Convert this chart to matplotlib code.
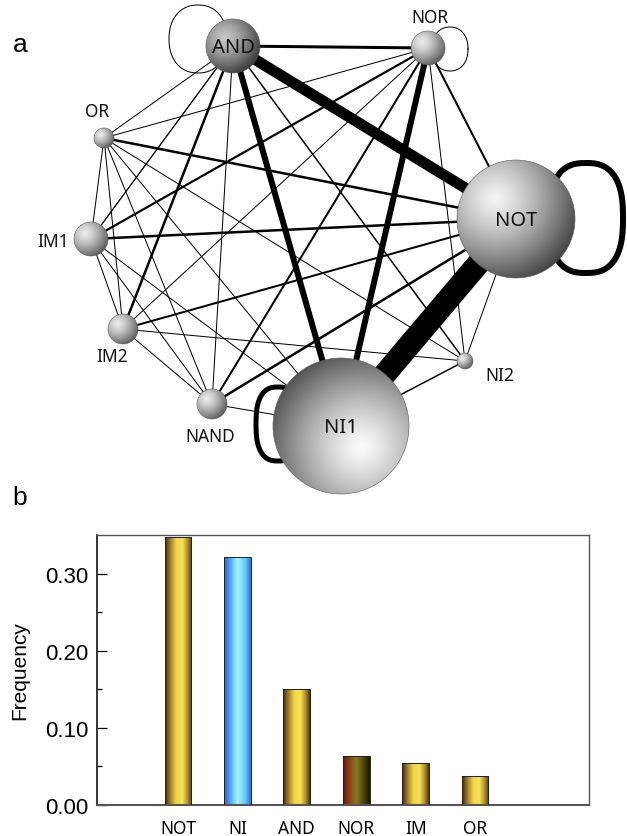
import matplotlib
matplotlib.use('Agg')
import matplotlib.pyplot as plt
import numpy as np
from matplotlib.patches import Circle
from matplotlib.colors import LinearSegmentedColormap

# -- network data (node layout in pixels of panel a) -----
node_names = ['AND', 'NOR', 'NOT', 'NI2', 'NI1', 'NAND', 'IM2', 'IM1', 'OR']
node_x = [233, 428, 516, 465, 341, 212, 123, 91, 104]
node_y = [47, 49, 220, 362, 427, 405, 330, 240, 139]
node_r = [27, 17, 59, 8, 68, 15, 15, 17, 10]

edge_src = ['AND', 'NOT', 'AND', 'NOR', 'AND', 'OR', 'IM1', 'IM1', 'IM2', 'IM2',
            'NAND', 'NAND', 'NOR', 'NI1', 'AND', 'AND', 'AND', 'AND', 'OR', 'OR',
            'OR', 'OR', 'OR', 'OR', 'IM1', 'IM1', 'IM1', 'IM1', 'IM2', 'IM2',
            'IM2', 'NAND', 'NOT', 'NOR']
edge_dst = ['NOT', 'NI1', 'NI1', 'NI1', 'NOR', 'NOT', 'NOT', 'NOR', 'AND', 'NOT',
            'NOT', 'NOR', 'NOT', 'NI2', 'NI2', 'OR', 'IM1', 'NAND', 'NOR', 'IM1',
            'IM2', 'NAND', 'NI1', 'NI2', 'IM2', 'NAND', 'NI1', 'AND', 'NAND', 'NI2',
            'NOR', 'NI1', 'NI2', 'NI2']
edge_w = [11, 23, 6, 6, 3, 2.5, 2.5, 2.2, 2.5, 2,
          2.5, 2, 2, 1.5, 1.5, 1, 1, 1, 1, 1,
          1, 1, 1, 1, 1, 1, 1, 1, 1, 1,
          1, 1, 1, 1]

loop_node = ['NOT', 'NI1', 'AND', 'NOR']
loop_w = [6, 5, 1, 1]

# -- bar data -----
gates = ['NOT', 'NI', 'AND', 'NOR', 'IM', 'OR']
freq = [0.348, 0.321, 0.150, 0.064, 0.055, 0.037]

W, H = 627, 837
fig = plt.figure(figsize=(W / 100, H / 100), dpi=100)
PX = 0.72  # points per pixel

pos = {n: (x, y) for n, x, y in zip(node_names, node_x, node_y)}
rad = {n: r for n, r in zip(node_names, node_r)}

# ---------------- panel a ----------------
ax = fig.add_axes([0, 1 - 500 / H, 1, 500 / H])
ax.set_xlim(0, W)
ax.set_ylim(500, 0)
ax.set_autoscale_on(False)
ax.axis('off')

for s, d, w in zip(edge_src, edge_dst, edge_w):
    (x0, y0), (x1, y1) = pos[s], pos[d]
    ax.plot([x0, x1], [y0, y1], color='black', lw=w * PX,
            solid_capstyle='butt', zorder=1)

# self loops: offset of loop centre, half sizes, exponent
loop_geom = {'NOT': (70, -1, 37, 55, 2.6),
             'NI1': (-63, -2, 22, 37, 2.6),
             'AND': (-35, -7, 29, 34, 2.2),
             'NOR': (22, 1, 18, 22, 2.2)}
t = np.linspace(0, 2 * np.pi, 400)
for n, w in zip(loop_node, loop_w):
    dx, dy, a, b, p = loop_geom[n]
    cx, cy = pos[n][0] + dx, pos[n][1] + dy
    c, s_ = np.cos(t), np.sin(t)
    xs = cx + a * np.sign(c) * np.abs(c) ** (2 / p)
    ys = cy + b * np.sign(s_) * np.abs(s_) ** (2 / p)
    ax.plot(xs, ys, color='black', lw=w * PX, zorder=1)

# shaded spheres
shade = {'NOT': (-0.35, -0.35, 0.95, 0.26),
         'NI1': (0.3, 0.3, 0.98, 0.33),
         'AND': (-0.3, -0.3, 0.78, 0.22)}


def sphere(cx, cy, r, hx, hy, light, dark):
    g = np.linspace(-1, 1, 200)
    X, Y = np.meshgrid(g, g)
    dd = np.hypot(X - hx, Y - hy) / (1 + np.hypot(hx, hy))
    val = light - (light - dark) * np.clip(dd, 0, 1) ** 1.3
    im = ax.imshow(val, extent=(cx - r, cx + r, cy + r, cy - r), cmap='gray',
                   vmin=0, vmax=1, interpolation='bilinear', zorder=3,
                   aspect='auto')
    circ = Circle((cx, cy), r, facecolor='none', edgecolor='0.35', lw=0.4,
                  zorder=4)
    ax.add_patch(circ)
    im.set_clip_path(circ)


for n in node_names:
    hx, hy, li, da = shade.get(n, (-0.35, -0.35, 0.92, 0.35))
    sphere(pos[n][0], pos[n][1], rad[n], hx, hy, li, da)

font = 'Noto Sans'
inner = {'AND': (0, 0), 'NOT': (0, 0), 'NI1': (0, 0)}
outer = {'NOR': (2, -31), 'OR': (-7, -27), 'IM1': (-38, 2), 'IM2': (-11, 27),
         'NAND': (-2, 32), 'NI2': (35, 14)}
for n in node_names:
    x, y = pos[n]
    if n in inner:
        ax.text(x, y + 1, n, ha='center', va='center', fontsize=14.5,
                family=font, color='#111111', zorder=5)
    else:
        ox, oy = outer[n]
        ax.text(x + ox, y + oy, n, ha='center', va='center', fontsize=12.5,
                family=font, color='#111111', zorder=5)

fig.text(20 / W, 1 - 45 / H, 'a', fontsize=19, family='Liberation Sans',
         ha='center', va='center')
fig.text(20 / W, 1 - 498 / H, 'b', fontsize=19, family='Liberation Sans',
         ha='center', va='center')

# ---------------- panel b ----------------
bx = fig.add_axes([97 / W, (H - 806) / H, (589 - 97) / W, (806 - 536) / H])
gold = LinearSegmentedColormap.from_list('gold', [
    (0, '#3e2810'), (0.18, '#9a7426'), (0.42, '#f0d646'), (0.65, '#f6e254'),
    (0.85, '#b08a30'), (1, '#4a3212')])
blue = LinearSegmentedColormap.from_list('blue', [
    (0, '#2a5cd0'), (0.15, '#3f8cf2'), (0.5, '#a6f6ff'), (0.8, '#66c4fa'),
    (1, '#2c6ee0')])
olive = LinearSegmentedColormap.from_list('olive', [
    (0, '#5a1808'), (0.2, '#8a3810'), (0.5, '#8a7a22'), (0.78, '#44440f'),
    (1, '#161606')])
bar_cmaps = [gold, blue, gold, olive, gold, gold]

xpos = np.arange(len(gates))
bw = 0.45
bars = bx.bar(xpos, freq, bw, facecolor='none', edgecolor='#2a2010', lw=0.7,
              zorder=3)
grad = np.linspace(0, 1, 256).reshape(1, -1)
for b, cm in zip(bars, bar_cmaps):
    x0 = b.get_x()
    im = bx.imshow(grad, extent=(x0, x0 + b.get_width(), 0, b.get_height()),
                   cmap=cm, aspect='auto', zorder=2, interpolation='bilinear')
    im.set_clip_path(b)

bx.set_xlim(-1.364, 6.92)
bx.set_ylim(0, 0.35)
bx.set_xticks(xpos)
bx.set_xticklabels(gates, family=font, fontsize=12.5)
bx.tick_params(axis='x', length=0, pad=10)
bx.set_yticks([0, 0.1, 0.2, 0.3])
bx.set_yticklabels(['0.00', '0.10', '0.20', '0.30'], family='Liberation Sans',
                   fontsize=16)
bx.set_yticks([0.05, 0.15, 0.25], minor=True)
bx.tick_params(axis='y', which='major', direction='in', length=7.5, width=0.9,
               pad=6)
bx.tick_params(axis='y', which='minor', direction='in', length=3.8, width=0.9)
bx.set_ylabel('Frequency', family='Liberation Sans', fontsize=15)
bx.yaxis.set_label_coords(-0.138, 0.5)
bx.spines['left'].set_color('black')
bx.spines['left'].set_linewidth(1.1)
for sp in ['top', 'right']:
    bx.spines[sp].set_color('#555555')
    bx.spines[sp].set_linewidth(1.0)
bx.spines['bottom'].set_color('#555555')
bx.spines['bottom'].set_linewidth(1.5)

fig.savefig('out.png', dpi=100)
